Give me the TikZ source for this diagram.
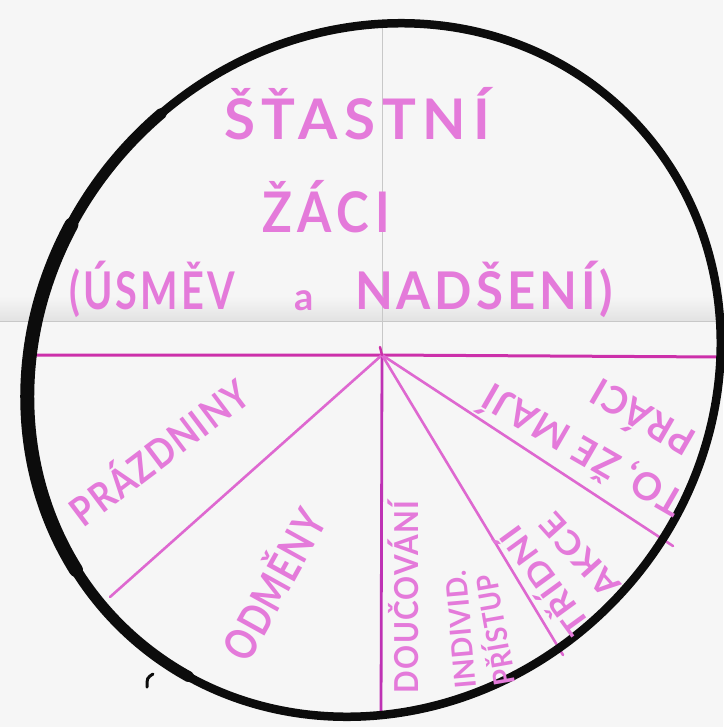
\documentclass[tikz,border=0pt]{standalone}
\usepackage{fontspec}
\setmainfont{Lato}
\usepackage{graphicx}
\definecolor{pinkt}{RGB}{228,122,218}
\definecolor{magl}{RGB}{222,104,208}
\definecolor{magd}{RGB}{204,48,170}
\definecolor{magv}{RGB}{190,50,180}
\definecolor{bg}{RGB}{246,246,246}
\definecolor{foldg}{RGB}{226,226,226}
\definecolor{foldl}{RGB}{200,200,200}
\definecolor{ink}{RGB}{12,12,12}
\newsavebox\hwbox
\newlength\hwlen
\newcommand\fitw[2]{\sbox\hwbox{#2}\setlength\hwlen{\wd\hwbox}\pgfmathsetmacro\hwr{#1/\hwlen}\scalebox{\hwr}[1]{\usebox\hwbox}}
\newcommand\hand[2]{\fontsize{#1}{#1}\selectfont\bfseries\addfontfeature{LetterSpace=#2}}
\begin{document}
\begin{tikzpicture}[x=1pt,y=-1pt,
  lab/.style={inner sep=0pt,text=pinkt,text depth=0pt},
  mline/.style={draw=magl,line width=2.6pt,line cap=round},
  dline/.style={draw=magd,line width=3pt,line cap=round},
  vline/.style={draw=magv,line width=2.8pt,line cap=round}]
\useasboundingbox (0,0) rectangle (723,727);
\fill[bg] (0,0) rectangle (723,727);
% paper folds
\shade[top color=bg,bottom color=foldg] (0,296) rectangle (723,321);
\coordinate (fl) at (0,321.5);
\coordinate (fr) at (723,321.5);
\draw[foldl,line width=0.8pt] (fl) -- (fr);
\coordinate (hub) at (382,355);
\coordinate (ftop) at (382,24);
\draw[foldl,line width=0.7pt] (ftop) -- (hub);
% sector lines
\coordinate (lend) at (33,355);
\coordinate (rend) at (719,357);
\coordinate (sw) at (110,597);
\coordinate (bot) at (381,716);
\coordinate (se1) at (563,655);
\coordinate (se2) at (673,546);
\coordinate (hubtip) at (380,347);
\draw[dline] (lend) -- (hub) -- (rend);
\draw[vline] (hub) -- (bot);
\draw[mline] (hub) -- (sw);
\draw[mline] (hub) -- (se1);
\draw[mline] (hub) -- (se2);
\draw[magd,line width=2.5pt,line cap=round] (hubtip) -- (hub);
% circle (hand-drawn, slightly oval)
\begin{scope}[shift={(374,370)},rotate=45]
  \draw[ink,line width=8.5pt] (0,0) ellipse [x radius=360, y radius=333];
  \draw[ink,line width=11pt,line cap=round] ({360*cos(165)},{333*sin(165)}) arc [start angle=165, end angle=275, x radius=360, y radius=333];
  \draw[ink,line width=14pt,line cap=round] ({360*cos(192)},{333*sin(192)}) arc [start angle=192, end angle=252, x radius=360, y radius=333];
\end{scope}
\coordinate (m1) at (153,674);
\coordinate (m2) at (147,687);
\draw[ink,line width=3pt,line cap=round] (m1) .. controls (147,678) .. (m2);
% title
\node[lab,font={\hand{56}{12}},text height=40pt] (t1) at (357,120) {\fitw{266}{ŠŤASTNÍ}};
\node[lab,font={\hand{56}{12}},text height=40pt] (t2) at (326,213) {\fitw{128}{ŽÁCI}};
\node[lab,font={\hand{52}{8}},text height=37pt] (t3a) at (152,291) {\fitw{166}{(ÚSMĚV}};
\node[lab,font={\hand{38}{0}},anchor=base] (t3b) at (304,310) {a};
\node[lab,font={\hand{52}{8}},text height=37pt] (t3c) at (484,291) {\fitw{258}{NADŠENÍ)}};
% sectors
\node[lab,font={\hand{40}{4}},text height=28.7pt,rotate=37] (prazd) at (160,453) {\fitw{212}{PRÁZDNINY}};
\node[lab,font={\hand{44}{4}},text height=31.5pt,rotate=61] (odm) at (275,585) {\fitw{165}{ODMĚNY}};
\node[lab,font={\hand{33}{4}},text height=23.6pt,rotate=90] (douc) at (407,597) {\fitw{192}{DOUČOVÁNÍ}};
\node[lab,font={\hand{29}{2}},text height=20.8pt,rotate=95] (indiv) at (461,630) {\fitw{118}{INDIVID.}};
\node[lab,font={\hand{29}{2}},text height=20.8pt,rotate=100] (prist) at (496,630) {\fitw{112}{PŘÍSTUP}};
\node[lab,font={\hand{33}{4}},text height=23.6pt,rotate=126] (trid) at (545,581) {\fitw{125}{TŘÍDNÍ}};
\node[lab,font={\hand{33}{4}},text height=23.6pt,rotate=132] (akce) at (580,555) {\fitw{100}{AKCE}};
\node[lab,font={\hand{38}{4}},text height=27.2pt,rotate=150] (maji) at (583,450) {\fitw{225}{TO, ŽE MAJÍ}};
\node[lab,font={\hand{38}{4}},text height=27.2pt,rotate=150] (praci) at (643,417) {\fitw{112}{PRÁCI}};
\end{tikzpicture}
\end{document}
